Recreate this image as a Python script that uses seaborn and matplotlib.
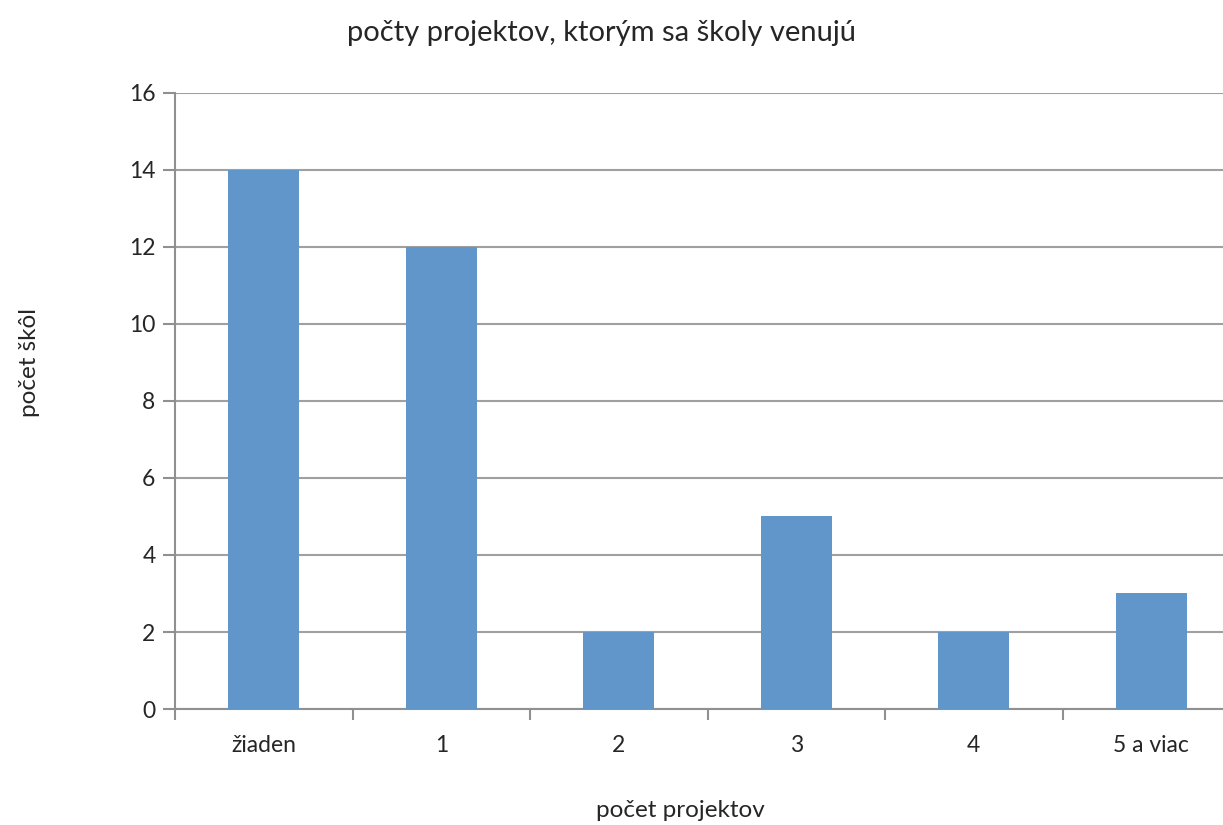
import matplotlib
matplotlib.use('Agg')
import matplotlib.pyplot as plt
import seaborn as sns
import pandas as pd

# values
kategorie = ['žiaden', '1', '2', '3', '4', '5 a viac']
pocet_skol = [14, 12, 2, 5, 2, 3]

df = pd.DataFrame({'projekty': kategorie, 'skoly': pocet_skol})

sns.set_style('white')
plt.rcParams['font.family'] = ['Lato', 'DejaVu Sans']

fig = plt.figure(figsize=(12.23, 8.25), dpi=100)
ax = fig.add_axes([0.1431, 0.1406, 0.8708, 0.7467])

sns.barplot(x='projekty', y='skoly', data=df, color='#6096CA', width=0.4,
            saturation=1, linewidth=0, ax=ax, zorder=3)

ax.set_xlim(-0.5, len(kategorie) - 0.5)
ax.set_ylim(0, 16)
ax.set_yticks(range(0, 17, 2))
ax.yaxis.grid(True, color='#A0A0A0', linewidth=1.5, zorder=0)
ax.set_axisbelow(True)

# x ticks sit between the categories
ax.set_xticks([i - 0.5 for i in range(len(kategorie) + 1)], minor=True)
ax.tick_params(axis='x', which='minor', length=8, color='#909090', width=1.5, direction='out', bottom=True)
ax.tick_params(axis='x', which='major', length=0, labelsize=16.5, pad=19)
ax.tick_params(axis='y', length=9, color='#909090', width=1.5, direction='out', left=True, labelsize=16.5, pad=5)

for s in ['top', 'right']:
    ax.spines[s].set_visible(False)
for s in ['left', 'bottom']:
    ax.spines[s].set_color('#909090')
    ax.spines[s].set_linewidth(1.5)

ax.set_xlabel('')
ax.set_ylabel('')
fig.text(0.492, 0.96, 'počty projektov, ktorým sa školy venujú', ha='center', va='center', fontsize=21)
fig.text(0.556, 0.018, 'počet projektov', ha='center', va='center', fontsize=17.5)
fig.text(0.024, 0.561, 'počet škôl', ha='center', va='center', rotation=90, fontsize=17.5)

fig.savefig('out.png', dpi=100)
